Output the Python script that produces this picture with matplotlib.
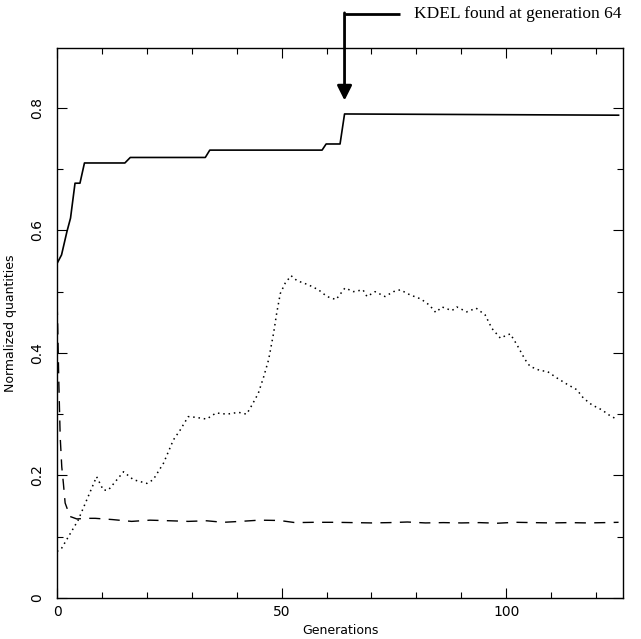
import matplotlib
matplotlib.use("Agg")
import matplotlib.pyplot as plt
from matplotlib.ticker import MultipleLocator

# ---- data ----
# best fitness (solid)
solid_gen = [0, 1, 2.2, 3, 4, 5.1, 6.1, 15.1, 16.3, 33, 34, 59, 59.9, 63, 64, 125]
solid_val = [0.546, 0.56, 0.598, 0.62, 0.677, 0.677, 0.71, 0.71, 0.719, 0.719,
             0.731, 0.731, 0.741, 0.741, 0.79, 0.788]

# dashed quantity
dash_gen = [0, 0.1, 0.4, 0.7, 1.05, 1.4, 1.8, 2.9, 4.4, 6.6, 8.5, 12.3, 16.6, 20.7,
            25.2, 29.2, 33.3, 37, 40.8, 45, 49.5, 53, 57, 62, 66, 70, 74, 78, 82,
            86, 90, 94, 98, 102, 106, 110, 114, 118, 122, 125]
dash_val = [0.48, 0.46, 0.35, 0.263, 0.214, 0.188, 0.155, 0.133, 0.129, 0.130,
            0.130, 0.128, 0.125, 0.127, 0.126, 0.125, 0.126, 0.1235, 0.125, 0.127,
            0.1265, 0.123, 0.1235, 0.1235, 0.123, 0.1225, 0.123, 0.124, 0.1225,
            0.123, 0.1225, 0.123, 0.122, 0.1235, 0.123, 0.1225, 0.123, 0.1225,
            0.123, 0.1235]

# dotted quantity
dot_gen = [0, 1, 4.7, 8.8, 10.3, 11.4, 14.8, 17, 20, 21.4, 23.7, 25.9, 27.4, 29.2,
           30.7, 33.3, 35.4, 37.8, 40.4, 42.2, 43.4, 44.8, 46, 47.1, 48.2, 48.9,
           49.7, 50.8, 52.1, 53.4, 56, 58.2, 60.1, 62.1, 64.1, 66, 68.1, 69, 70.8,
           73, 74.9, 76.4, 78.5, 81, 82.9, 84.3, 85.7, 87.9, 89, 91.2, 93.3, 95.3,
           96.8, 98.7, 99.8, 100.9, 102.4, 104.2, 105.3, 107.6, 109.1, 111.3,
           113.5, 115.7, 117.2, 119.1, 121.3, 122.8, 124.5]
dot_val = [0.076, 0.081, 0.127, 0.198, 0.176, 0.176, 0.206, 0.193, 0.187, 0.193,
           0.22, 0.258, 0.274, 0.296, 0.295, 0.292, 0.302, 0.300, 0.303, 0.300,
           0.315, 0.334, 0.361, 0.389, 0.432, 0.465, 0.497, 0.514, 0.526, 0.518,
           0.511, 0.503, 0.492, 0.487, 0.506, 0.500, 0.503, 0.492, 0.500, 0.492,
           0.500, 0.503, 0.495, 0.488, 0.478, 0.466, 0.475, 0.469, 0.475, 0.467,
           0.473, 0.462, 0.440, 0.424, 0.428, 0.431, 0.413, 0.389, 0.378, 0.371,
           0.370, 0.359, 0.349, 0.340, 0.326, 0.315, 0.307, 0.299, 0.292]

found_gen = 64
note_text = "KDEL found at generation 64"

fig = plt.figure(figsize=(6.41, 6.39), dpi=100)
ax = fig.add_axes([0.089, 0.0642, 0.883, 0.861])

ax.plot(solid_gen, solid_val, color="black", lw=1.2)
ax.plot(dash_gen, dash_val, color="black", lw=1.0, linestyle=(0, (8, 6)))
ax.plot(dot_gen, dot_val, color="black", lw=1.1, linestyle=(0, (1, 2.5)))

ax.set_xlim(0, 126)
ax.set_ylim(0, 0.898)
ax.xaxis.set_major_locator(MultipleLocator(50))
ax.xaxis.set_minor_locator(MultipleLocator(10))
ax.yaxis.set_major_locator(MultipleLocator(0.2))
ax.yaxis.set_minor_locator(MultipleLocator(0.1))
ax.xaxis.set_major_formatter(plt.FuncFormatter(lambda v, p: "%d" % v))
ax.yaxis.set_major_formatter(plt.FuncFormatter(lambda v, p: "0" if v == 0 else "%.1f" % v))

ax.tick_params(which="both", direction="in", top=True, right=True, width=0.8)
ax.tick_params(which="major", length=7)
ax.tick_params(which="minor", length=4)
ax.tick_params(axis="x", which="major", pad=5, labelsize=10)
ax.tick_params(axis="y", which="major", pad=9, labelsize=10)
for lab in ax.get_yticklabels():
    lab.set_rotation(90)
    lab.set_va("center")

for s in ax.spines.values():
    s.set_linewidth(1.0)

ax.set_xlabel("Generations", fontsize=9, labelpad=4)
ax.set_ylabel("Normalized quantities", fontsize=9, labelpad=10)

# arrow pointing to where KDEL appears
ax.plot([found_gen, found_gen + 12.3], [0.953, 0.953], color="black", lw=2,
        clip_on=False, solid_capstyle="butt")
ax.annotate("", xy=(found_gen, 0.812), xytext=(found_gen, 0.955),
            arrowprops=dict(arrowstyle="-|>", lw=2, color="black", mutation_scale=22,
                            shrinkA=0, shrinkB=0),
            annotation_clip=False)
ax.text(found_gen + 15.5, 0.953, note_text, family="Liberation Serif", fontsize=12.5,
        va="center", ha="left", clip_on=False)

fig.savefig("out.png", dpi=100)
